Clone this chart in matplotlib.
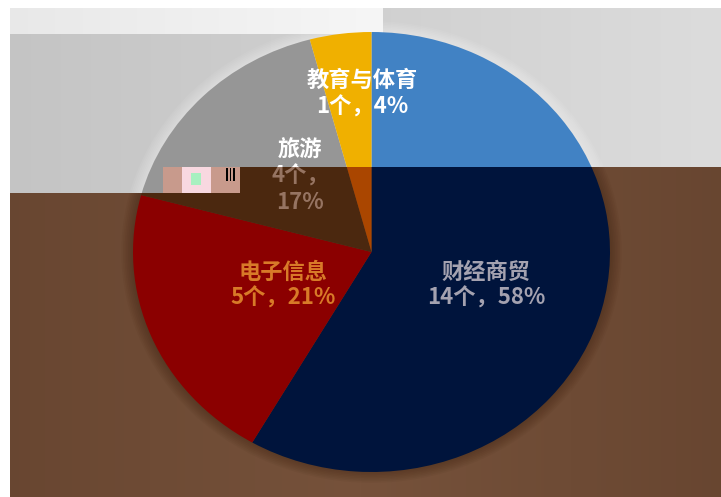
import numpy as np
import matplotlib
matplotlib.use("Agg")
import matplotlib.pyplot as plt
from matplotlib.patches import Rectangle, Circle

plt.rcParams['font.family'] = ['Noto Sans CJK SC', 'DejaVu Sans']

# ---- data ----
categories = ['财经商贸', '电子信息', '旅游', '教育与体育']
counts = [14, 5, 4, 1]
percents = ['58%', '21%', '17%', '4%']

# ---- style ----
colors_light = ['#4182C4', '#E46C0A', '#969696', '#F0B000']
colors_dark = ['#00143C', '#8B0000', '#4B280F', '#AA4600']
text_light = ['#FFFFFF', '#FFFFFF', '#FFFFFF', '#FFFFFF']
text_dark = ['#A4A2B0', '#D87A28', '#967462', '#FFFFFF']
label_pos = [(0.48, -0.15), (-0.37, -0.15), (-0.30, 0.345), (-0.04, 0.72)]
label_wrap = [False, False, True, False]

W, H = 721, 497
fig = plt.figure(figsize=(W / 100, H / 100), dpi=100)

# background axes in pixel coordinates (y down)
bg = fig.add_axes([0, 0, 1, 1])
bg.set_xlim(0, W)
bg.set_ylim(H, 0)
bg.axis('off')

X, Y = np.meshgrid(np.arange(W), np.arange(H))
top_mask = (Y < 167) | ((Y < 193) & (X < 240))
img = np.zeros((H, W, 3))
g = (196 + 24 * (X / W)) / 255
bro = 1 - np.abs(X - 360) / 420
img[..., 0] = np.where(top_mask, g, (102 + 16 * bro) / 255)
img[..., 1] = np.where(top_mask, g, (68 + 14 * bro) / 255)
img[..., 2] = np.where(top_mask, g, (47 + 12 * bro) / 255)
strip = (Y >= 8) & (Y < 34) & (X < 383)
sv = (232 + 14 * X / 383) / 255
for c in range(3):
    img[..., c] = np.where(strip, sv, img[..., c])
margin = (X < 10) | (Y < 8)
img[margin] = 1.0
bg.imshow(img, extent=(0, W, H, 0), interpolation='nearest', aspect='auto')

# pie geometry (pixels): ellipse centre and radii
cx, cy, a, b = 371.5, 252, 238.5, 220

# regions of the screenshot with the two colourings (x0, y0, x1, y1 in pixels)
regions = [
    ((10, 8, W, 167), colors_light, text_light, '#FFFFFF'),
    ((10, 167, 240, 193), colors_light, text_light, '#FFFFFF'),
    ((10, 193, W, H), colors_dark, text_dark, '#3A1E0C'),
    ((240, 167, W, 193), colors_dark, text_dark, '#3A1E0C'),
]

for (x0, y0, x1, y1), cols, tcols, halo in regions:
    ax = fig.add_axes([x0 / W, 1 - y1 / H, (x1 - x0) / W, (y1 - y0) / H])
    ax.patch.set_alpha(0)
    for k in range(7):
        ax.add_patch(Circle((0, 0), 1 + 0.007 * (k + 1), color=halo, alpha=0.06,
                            lw=0, zorder=0))
    wedges, _ = ax.pie(counts, colors=cols, startangle=90, counterclock=False,
                       radius=1, wedgeprops=dict(linewidth=0))
    for w in wedges:
        w.set_clip_on(True)
        w.set_clip_path(ax.patch)
    ax.set_aspect('auto')
    ax.set_xlim((x0 - cx) / a, (x1 - cx) / a)
    ax.set_ylim((cy - y1) / b, (cy - y0) / b)
    ax.axis('off')
    for i, cat in enumerate(categories):
        sep = '\n' if label_wrap[i] else ''
        txt = f"{cat}\n{counts[i]}个，{sep}{percents[i]}"
        ax.text(label_pos[i][0], label_pos[i][1], txt, ha='center', va='center',
                fontsize=16, fontweight='bold', color=tcols[i], linespacing=1.17,
                multialignment='center', clip_on=True)

# overlay axes for the screenshot artefact block
ov = fig.add_axes([0, 0, 1, 1])
ov.set_xlim(0, W)
ov.set_ylim(H, 0)
ov.axis('off')
ov.patch.set_alpha(0)
ov.add_patch(Rectangle((163, 167), 77, 26, color='#C89A8C', lw=0))
ov.add_patch(Rectangle((182, 167), 29, 26, color='#F8D8E0', lw=0))
ov.add_patch(Rectangle((191, 173), 10, 12, color='#A8F0C0', lw=0))
for xl in (226, 229.5, 233):
    ov.add_patch(Rectangle((xl, 168), 1.6, 13, color='black', lw=0))

fig.savefig('out.png', dpi=100)
